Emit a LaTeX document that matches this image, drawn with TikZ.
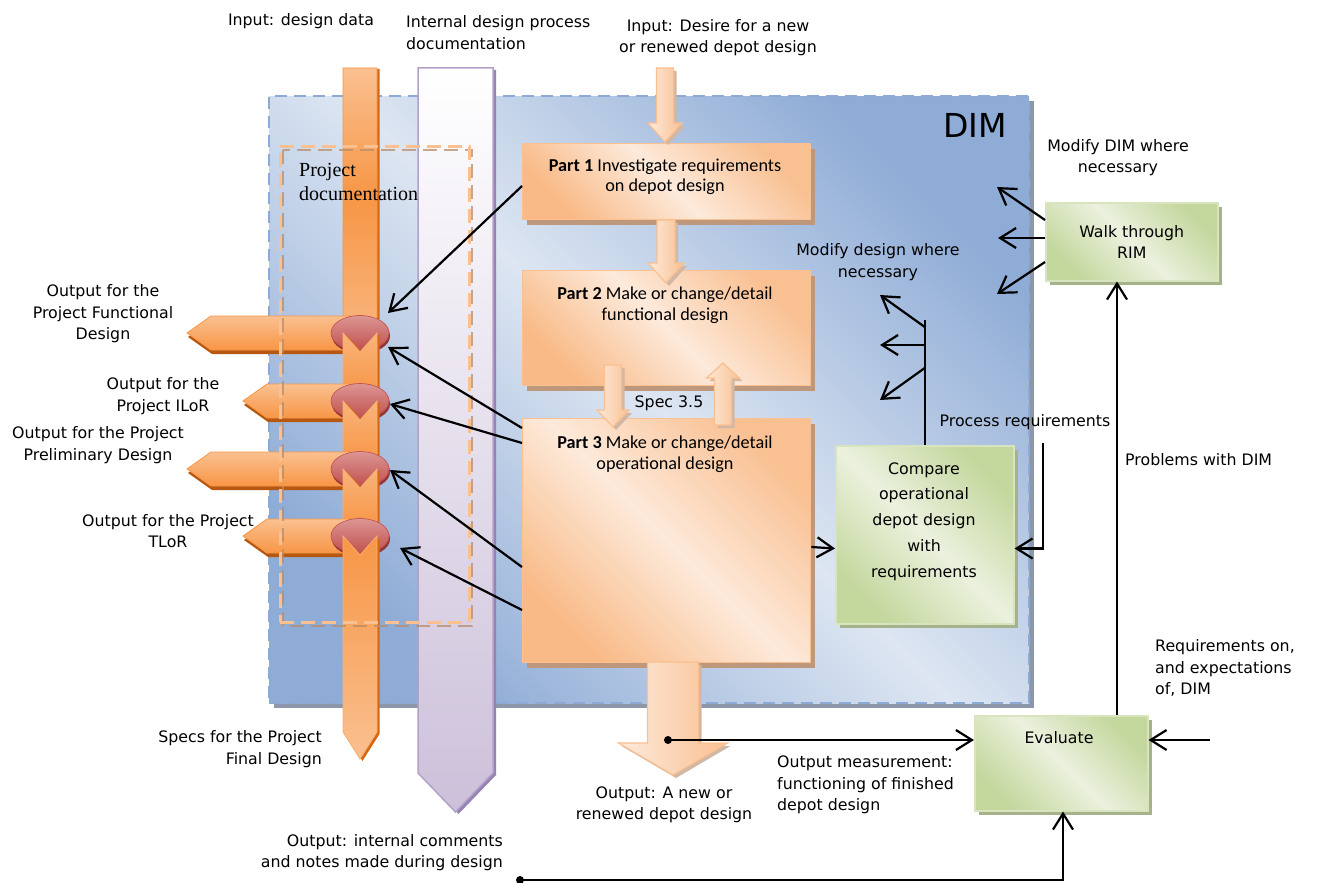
\documentclass[tikz,border=0pt]{standalone}
\usepackage{fontspec}
\setmainfont{DejaVu Sans}
\newfontfamily\calfont{Carlito}
\newfontfamily\timfont{Liberation Serif}
\usetikzlibrary{arrows.meta,shadows,calc}
\definecolor{dimdark}{RGB}{143,172,214}
\definecolor{dimlight}{RGB}{221,230,242}
\definecolor{dimedge}{RGB}{141,170,215}
\definecolor{dimshadow}{RGB}{140,152,170}
\definecolor{orA}{RGB}{250,192,144}
\definecolor{orB}{RGB}{247,150,70}
\definecolor{orC}{RGB}{182,88,18}
\definecolor{orD}{RGB}{214,104,20}
\definecolor{peach}{RGB}{253,234,219}
\definecolor{peachD}{RGB}{249,192,146}
\definecolor{boxshadow}{RGB}{190,152,125}
\definecolor{grL}{RGB}{235,241,222}
\definecolor{grD}{RGB}{196,215,157}
\definecolor{grE}{RGB}{215,228,189}
\definecolor{grS}{RGB}{165,178,140}
\definecolor{puL}{RGB}{204,192,218}
\definecolor{puE}{RGB}{178,161,199}
\definecolor{puS}{RGB}{150,130,180}
\definecolor{redA}{RGB}{220,150,148}
\definecolor{redB}{RGB}{192,80,77}
\definecolor{redC}{RGB}{148,54,52}
\definecolor{pdocC}{RGB}{250,192,144}
\definecolor{pdocS}{RGB}{185,140,105}
\tikzset{
  lbl/.style={font=\fontsize{15.8}{21.5}\selectfont, inner sep=0pt, align=center},
  lblL/.style={lbl, align=left},
  lblR/.style={lbl, align=right},
  ptxt/.style={font=\calfont\fontsize{18.2}{20.5}\selectfont, inner sep=0pt, align=center},
  dimbox/.style={draw=dimedge, line width=2pt, dash pattern=on 12pt off 7pt,
    top color=dimdark, bottom color=dimdark, middle color=dimlight, shading angle=-45,
    drop shadow={shadow xshift=5pt, shadow yshift=-5pt, fill=dimshadow, opacity=1},
    inner sep=0pt, anchor=north west},
  partbox/.style={draw=orA, line width=1.3pt,
    top color=peachD, bottom color=peachD!85!orB, middle color=peach, shading angle=-45,
    drop shadow={shadow xshift=4pt, shadow yshift=-5pt, fill=boxshadow, opacity=1},
    inner sep=0pt, anchor=north west},
  greenbox/.style={draw=grE, line width=1.5pt,
    top color=grD, bottom color=grD, middle color=grL, shading angle=-45,
    drop shadow={shadow xshift=4pt, shadow yshift=-4pt, fill=grS, opacity=1},
    inner sep=0pt, anchor=north west},
  blk/.style={draw=orA, line width=1.2pt, left color=peach, right color=peachD,
    drop shadow={shadow xshift=3pt, shadow yshift=-3pt, fill=boxshadow!70!white, opacity=1}},
  obarA/.style={draw=orB, line width=0.8pt, top color=orA, bottom color=orA!70!orB, middle color=orB,
    drop shadow={shadow xshift=2.5pt, shadow yshift=-1pt, fill=orD, opacity=1}},
  vseg/.style={draw=orA!60!orB, line width=0.8pt, top color=orA!70!orB, bottom color=orB,
    drop shadow={shadow xshift=2.5pt, shadow yshift=-1pt, fill=orD, opacity=1}},
  vsegL/.style={draw=orA!60!orB, line width=0.8pt, top color=orB, bottom color=orA,
    drop shadow={shadow xshift=2.5pt, shadow yshift=-2pt, fill=orD, opacity=1}},
  harr/.style={draw=orB, line width=0.8pt, top color=orA, bottom color=orB,
    drop shadow={shadow xshift=1pt, shadow yshift=-4pt, fill=orC, opacity=1}},
  ball/.style={draw=redB, line width=0.6pt, top color=redA, bottom color=redB,
    drop shadow={shadow xshift=1pt, shadow yshift=-3pt, fill=redC, opacity=1}},
  pbar/.style={draw=puE, line width=1.5pt, top color=white, bottom color=puL,
    drop shadow={shadow xshift=3pt, shadow yshift=-2pt, fill=puS, opacity=1}},
  con/.style={line width=2.2pt, -{Straight Barb[length=16pt,width=20pt]}},
  plain/.style={line width=2.2pt},
}
\newcommand\BlkDown[6]{\path[blk] ({#1-#5},#2) -- ({#1+#5},#2) -- ({#1+#5},#3) -- ({#1+#6},#3) -- (#1,#4) -- ({#1-#6},#3) -- ({#1-#5},#3) -- cycle;}
\newcommand\HArr[2]{\path[harr] (350,{#1-17}) -- ({#2+24},{#1-17}) -- (#2,#1) -- ({#2+24},{#1+17}) -- (350,{#1+17}) -- (334,#1) -- cycle;}
\newcommand\VSeg[2]{\path[vseg] (343,#1) -- (360,{#1+19}) -- (377,#1) -- (377,{#2-4}) -- (373,#2) -- (347,#2) -- (343,{#2-4}) -- cycle;}
\newcommand\Ball[1]{\path[ball] (360,#1) ellipse [x radius=29pt, y radius=17.5pt];}
\begin{document}
\begin{tikzpicture}[x=1pt,y=-1pt]
\useasboundingbox (0,0) rectangle (1338,883);
% DIM area
\node[dimbox, minimum width=760pt, minimum height=607pt] (dim) at (268,95) {};
\node[font=\fontsize{33}{33}\selectfont, inner sep=0pt] (dimlbl) at (975,125) {DIM};
% purple documentation bar
\path[pbar] (418,68) -- (493,68) -- (493,773) -- (455.5,812) -- (418,773) -- cycle;
% orange design data bar
\path[obarA] (343,68) -- (377,68) -- (377,318) -- (372,326) -- (348,326) -- (343,318) -- cycle;
\HArr{333}{187}
\Ball{333}
\VSeg{333}{395}
\HArr{401}{243}
\Ball{401}
\VSeg{401}{462}
\HArr{469}{187}
\Ball{469}
\VSeg{469}{528}
\HArr{536}{243}
\Ball{536}
\path[vsegL] (343,536) -- (360,555) -- (377,536) -- (377,732) -- (360,759) -- (343,732) -- cycle;
% project documentation
\draw[pdocS, opacity=.75, line width=2.5pt, dash pattern=on 14pt off 7pt] (283,150) rectangle (472,626);
\node[draw=pdocC, line width=2.5pt, dash pattern=on 14pt off 7pt, minimum width=189pt, minimum height=476pt, inner sep=0pt, anchor=north west] (pdoc) at (279,145) {};
\node[font=\timfont\fontsize{20}{24}\selectfont, align=left, inner sep=0pt, anchor=north west] (pdt) at (299,163) {Project\\documentation};
% part boxes
\node[partbox, minimum width=288pt, minimum height=76pt] (p1) at (522,143) {};
\node[partbox, minimum width=288pt, minimum height=115pt] (p2) at (522,270) {};
\node[partbox, minimum width=288pt, minimum height=244pt] (p3) at (522,418) {};
\node[ptxt] (t1) at (665,177) {\textbf{Part 1} Investigate requirements\\on depot design};
\node[ptxt] (t2) at (665,305) {\textbf{Part 2} Make or change/detail\\functional design};
\node[ptxt] (t3) at (665,454) {\textbf{Part 3} Make or change/detail\\operational design};
% block arrows
\BlkDown{665}{68}{123}{142}{8.5}{17}
\BlkDown{666}{220}{263}{283}{9}{18}
\BlkDown{613}{365}{410}{427}{8.5}{16}
\BlkDown{723}{425}{378}{363}{8.5}{16.5}
\BlkDown{673}{662}{743}{775}{25.5}{54.5}
\node[lbl] (spec) at (669,403) {Spec 3.5};
% green boxes
\node[greenbox, minimum width=172pt, minimum height=78pt, lbl] (walk) at (1045,202) {Walk through\\RIM};
\node[greenbox, minimum width=178pt, minimum height=178pt] (cmp) at (835,445) {};
\node[lbl, font=\fontsize{15.8}{25.75}\selectfont] (cmpt) at (924,521.5) {Compare\\operational\\depot design\\with\\requirements};
\node[greenbox, minimum width=173pt, minimum height=95pt] (eval) at (974,715) {};
\node[lbl] (evt) at (1059,738) {Evaluate};
% connectors: design data outputs
\coordinate (bt1) at (388,313);
\coordinate (bt1b) at (388,347);
\coordinate (bt2) at (390,404);
\coordinate (bt3) at (390,470);
\coordinate (bt4) at (400,548);
\draw[con] ($(p1.north west)+(0,43)$) -- (bt1);
\draw[con] ($(p3.north west)+(0,10)$) -- (bt1b);
\draw[con] ($(p3.north west)+(0,25)$) -- (bt2);
\draw[con] ($(p3.north west)+(0,149)$) -- (bt3);
\draw[con] ($(p3.north west)+(0,192)$) -- (bt4);
% walk through RIM
\coordinate (ma1) at (997,187);
\coordinate (ma2) at (998,238);
\coordinate (ma3) at (997,294);
\draw[con] ($(walk.north west)+(0,18)$) -- (ma1);
\draw[con] ($(walk.north west)+(0,36)$) -- (ma2);
\draw[con] ($(walk.north west)+(0,60)$) -- (ma3);
% modify design fork
\coordinate (fk) at ($(cmp.north)+(0,-125)$);
\draw[plain] (cmp.north) -- (fk);
\coordinate (md1) at (880,295);
\coordinate (md2) at (880,345);
\coordinate (md3) at (880,400);
\draw[con] ($(cmp.north)+(0,-118)$) -- (md1);
\draw[con] ($(cmp.north)+(0,-100)$) -- (md2);
\draw[con] ($(cmp.north)+(0,-77)$) -- (md3);
% process requirements
\coordinate (pr) at (1043,443);
\draw[con] (pr) |- ($(cmp.south east)+(0,-76)$);
\draw[con] ($(p3.north east)+(0,129)$) -- ($(cmp.south west)+(0,-76)$);
% evaluate
\draw[con] ($(eval.north west)+(143,0)$) -- ($(walk.south west)+(72,0)$);
\coordinate (om) at (668,740);
\fill (om) circle (4pt);
\draw[con] (om) -- (om -| eval.west);
\coordinate (rq) at (1210,740);
\draw[con] (rq) -- (rq -| eval.east);
\coordinate (ic) at (520,880);
\fill (ic) circle (4pt);
\draw[con] (ic) -| ($(eval.south west)+(89,0)$);
% texts
\node[lbl] (in1) at (301,21) {Input: design data};
\node[lblL, anchor=west] (idp) at (406,32.5) {Internal design process\\documentation};
\node[lbl] (in2) at (718,37.5) {Input: Desire for a new\\or renewed depot design};
\node[lbl] (o1) at (103,314) {Output for the\\Project Functional\\Design};
\node[lbl] (o2) at (163,396) {Output for the\\Project ILoR};
\node[lbl] (o3) at (98,445) {Output for the Project\\Preliminary Design};
\node[lbl] (o4) at (168,531) {Output for the Project\\TLoR};
\node[lblR, anchor=east] (specs) at (322,749) {Specs for the Project\\Final Design};
\node[lbl] (mdim) at (1118,157.5) {Modify DIM where\\necessary};
\node[lbl] (mdes) at (878,262) {Modify design where\\necessary};
\node[lbl] (preq) at (1025,422) {Process requirements};
\node[lblL, anchor=west] (prob) at (1125,460) {Problems with DIM};
\node[lblL, anchor=west] (reqs) at (1155,668) {Requirements on,\\and expectations\\of, DIM};
\node[lblL, anchor=west] (omt) at (777,785) {Output measurement:\\functioning of finished\\depot design};
\node[lbl] (outt) at (664,805) {Output: A new or\\renewed depot design};
\node[lblR, anchor=east] (ict) at (503,852.5) {Output: internal comments\\and notes made during design};
\end{tikzpicture}
\end{document}
